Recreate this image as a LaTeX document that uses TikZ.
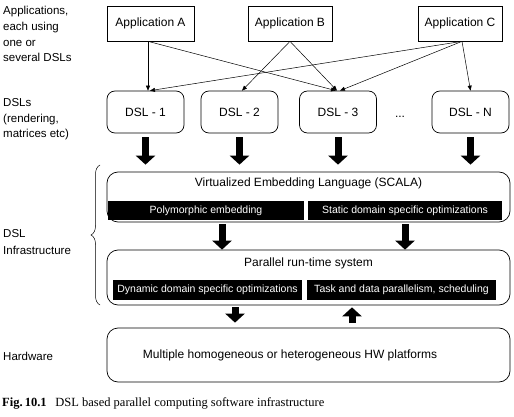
\documentclass[tikz,border=0pt]{standalone}
\usepackage{fontspec}
\setmainfont{Liberation Sans}
\newfontfamily\capfont{Liberation Serif}
\usetikzlibrary{arrows.meta,calc,decorations.pathreplacing}
\begin{document}
\begin{tikzpicture}[x=1pt,y=-1pt,
 appbox/.style={draw,line width=0.7pt,minimum height=35pt,inner sep=0pt,font=\fontsize{12}{14}\selectfont},
 dslbox/.style={draw,rounded corners=8pt,line width=0.7pt,minimum width=77pt,minimum height=42pt,inner sep=0pt,font=\fontsize{12}{14}\selectfont},
 bigbox/.style={draw,rounded corners=11pt,line width=0.7pt,minimum width=403pt,inner sep=0pt},
 titletext/.style={font=\fontsize{12}{14}\selectfont,inner sep=0pt},
 bar/.style={fill=black,text=white,font=\fontsize{10.5}{12}\selectfont,inner sep=0pt,minimum height=19pt},
 thin/.style={-{Triangle[length=5pt,width=4pt]},line width=0.5pt},
 thick/.style={-{Triangle[length=9pt,width=19pt]},line width=7pt},
 side/.style={align=left,anchor=north west,inner sep=0pt,font=\fontsize{11.5}{15.8}\selectfont},
 capt/.style={anchor=base west,inner sep=0pt,font=\capfont\fontsize{12.5}{14}\selectfont}
]
\useasboundingbox (0,0) rectangle (514,417);
% applications
\node[appbox,minimum width=87pt] (appA) at (150.5,23.5) {Application A};
\node[appbox,minimum width=84pt] (appB) at (290,23.5) {Application B};
\node[appbox,minimum width=84pt] (appC) at (460,23.5) {Application C};
% DSLs
\node[dslbox] (dsl1) at (145.5,112) {DSL - 1};
\node[dslbox] (dsl2) at (239.5,112) {DSL - 2};
\node[dslbox] (dsl3) at (338,112) {DSL - 3};
\node[dslbox] (dslN) at (470.5,112) {DSL - N};
\node[titletext] (dots) at (400,117) {...};
% thin arrows
\draw[thin] ($(appA.south)+(-2.5,0)$) -- ($(dsl1.north)+(2.5,0)$);
\draw[thin] ($(appA.south)+(-2.5,0)$) -- ($(dsl3.north)+(-2,0)$);
\draw[thin] (appB.south) -- ($(dsl2.north)+(2.5,0)$);
\draw[thin] (appB.south) -- ($(dsl3.north)+(-1,0)$);
\draw[thin] ($(appC.south)+(2,0)$) -- ($(dsl1.north)+(4.5,0)$);
\draw[thin] ($(appC.south)+(2,0)$) -- ($(dsl3.north)+(2,0)$);
\draw[thin] ($(appC.south)+(2,0)$) -- ($(dslN.north)+(0,0)$);
% VEL
\node[bigbox,minimum height=50pt] (vel) at (308.5,197) {};
\node[titletext] (veltitle) at (308.5,183) {Virtualized Embedding Language (SCALA)};
\node[bar,minimum width=196pt] (poly) at (206,210.5) {Polymorphic embedding};
\node[bar,minimum width=194pt] (stat) at (405,210.5) {Static domain specific optimizations};
% PRT
\node[bigbox,minimum height=55pt] (prt) at (308.5,277.5) {};
\node[titletext] (prttitle) at (308.5,263) {Parallel run-time system};
\node[bar,minimum width=189pt,minimum height=20pt] (dyn) at (207.5,290) {Dynamic domain specific optimizations};
\node[bar,minimum width=189pt,minimum height=20pt] (task) at (401.5,290) {Task and data parallelism, scheduling};
% HW
\node[bigbox,minimum height=54pt] (hw) at (308.5,355) {};
\node[titletext] (hwtext) at (290,355) {Multiple homogeneous or heterogeneous HW platforms};
% thick arrows
\foreach \d in {dsl1,dsl2,dsl3,dslN}{
  \draw[thick] ($(\d.south)+(0,4)$) -- ($(\d.south |- vel.north)+(0,-7)$);
}
\coordinate (a1) at (222,224);
\coordinate (a2) at (405,224);
\draw[thick] (a1) -- (a1 |- prt.north);
\draw[thick] (a2) -- (a2 |- prt.north);
\coordinate (h1) at (235,307);
\coordinate (h2) at (352,323);
\draw[thick] (h1) -- ($(h1 |- hw.north)+(0,-5)$);
\draw[thick] (h2) -- ($(h2 |- prt.south)+(0,2)$);
% brace
\draw[line width=0.5pt,decorate,decoration={brace,amplitude=9pt}] (100,305) -- (100,165);
% side labels
\node[side] (lab1) at (3,6) {Applications,\\each using\\one or\\several DSLs};
\node[side] (lab2) at (3,98) {DSLs\\(rendering,\\matrices etc)};
\node[side,font=\fontsize{11.5}{17}\selectfont] (lab3) at (3,229) {DSL\\Infrastructure};
\node[side] (lab4) at (3,352) {Hardware};
% caption
\node[capt] (cap) at (2,406) {\textbf{Fig.\,10.1}\hspace{0.7em}DSL based parallel computing software infrastructure};
\end{tikzpicture}
\end{document}
